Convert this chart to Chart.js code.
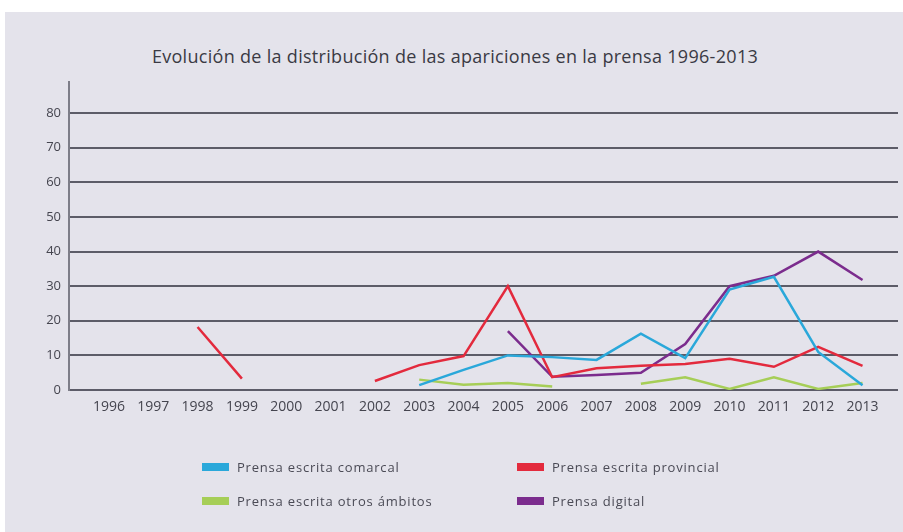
<!DOCTYPE html>
<html>
<head>
<meta charset="utf-8">
<script src="https://cdn.jsdelivr.net/npm/chart.js@4.4.1/dist/chart.umd.min.js"></script>
<style>
  html, body { margin: 0; padding: 0; background: #ffffff; }
  #wrap { position: relative; width: 903px; height: 532px; overflow: hidden; }
  #panel { position: absolute; left: 5px; top: 12px; width: 898px; height: 520px; background: #e4e3eb; }
  #title {
    position: absolute; left: 0; width: 910px; top: 44px; text-align: center;
    font-family: "Open Sans", sans-serif; font-size: 18px; color: #3a3a44; letter-spacing: 0.3px;
  }
  #chart { position: absolute; left: 0; top: 0; }
  .leg { position: absolute; font-family: "Open Sans", sans-serif; font-size: 13px; color: #4a4a55; white-space: nowrap; letter-spacing: 0.8px; }
  .leg span.box { position: absolute; left: 0; top: 5px; width: 27px; height: 8px; }
  .leg span.txt { position: absolute; left: 35px; top: 0; line-height: 18px; }
</style>
</head>
<body>
<div id="wrap">
  <div id="panel"></div>
  <div id="title">Evolución de la distribución de las apariciones en la prensa 1996-2013</div>
  <canvas id="chart" width="903" height="532"></canvas>
  <div id="legend"></div>
</div>
<script>
// 年份（x 轴）
const years = [1996, 1997, 1998, 1999, 2000, 2001, 2002, 2003, 2004,
               2005, 2006, 2007, 2008, 2009, 2010, 2011, 2012, 2013];

// y 轴刻度
const yTickValues = [0, 10, 20, 30, 40, 50, 60, 70, 80];

const seriesNames = [
  'Prensa escrita comarcal',
  'Prensa escrita provincial',
  'Prensa escrita otros ámbitos',
  'Prensa digital'
];

// 各系列数值（null = 无数据）
const comarcal   = [null, null, null, null, null, null, null, 1.4, 5.8, 10, 9.5, 8.7, 16.3, 9.2, 29, 32.7, 11, 1.4];
const provincial = [null, null, 18.2, 3.3, null, null, 2.6, 7.2, 9.8, 30, 3.7, 6.3, 7, 7.5, 9, 6.7, 12.5, 7];
const otros      = [null, null, null, null, null, null, null, 3, 1.5, 2, 1, null, 1.8, 3.7, 0.3, 3.7, 0.3, 2];
const digital    = [null, null, null, null, null, null, null, null, null, 17, 3.8, 4.3, 5, 13.3, 30, 33, 40, 31.8];

const colors = {
  comarcal: '#2aa8da',
  provincial: '#e32a3d',
  otros: '#a6ce57',
  digital: '#7b2c8d',
  grid: '#5c5c68',
  axis: '#7d7d88',
  tick: '#45454f'
};

const toPoints = (vals) => vals.map((v, i) => ({ x: years[i], y: v }));

const seriesValues = [comarcal, provincial, otros, digital];
const seriesColors = [colors.comarcal, colors.provincial, colors.otros, colors.digital];

const datasets = seriesValues.map((vals, i) => ({
  label: seriesNames[i],
  data: toPoints(vals),
  borderColor: seriesColors[i],
  backgroundColor: seriesColors[i],
  borderWidth: 2.5,
  pointRadius: 0,
  tension: 0,
  spanGaps: false
}));

const chart = new Chart(document.getElementById('chart'), {
  type: 'line',
  data: { datasets },
  options: {
    responsive: false,
    animation: false,
    layout: { padding: { left: 0, right: 5, top: 82, bottom: 0 } },
    plugins: {
      legend: { display: false },
      title: { display: false },
      tooltip: { enabled: false }
    },
    scales: {
      x: {
        type: 'linear',
        min: 1995.1,
        max: 2013.8,
        afterBuildTicks: (scale) => { scale.ticks = years.map(v => ({ value: v })); },
        afterFit: (scale) => { scale.height = 142; },
        grid: { display: false, drawTicks: false },
        border: { display: false },
        ticks: {
          autoSkip: false,
          maxRotation: 0,
          padding: 9,
          color: colors.tick,
          font: { family: 'Open Sans', size: 14 },
          callback: v => String(v)
        }
      },
      y: {
        min: 0,
        max: 89,
        afterBuildTicks: (scale) => { scale.ticks = yTickValues.map(v => ({ value: v })); },
        afterFit: (scale) => { scale.width = 69; },
        grid: { color: colors.grid, lineWidth: 2, drawTicks: false },
        border: { display: true, color: colors.axis, width: 2 },
        ticks: {
          padding: 8,
          color: colors.tick,
          font: { family: 'Open Sans', size: 13 }
        }
      }
    }
  }
});

// 图例（2 x 2 布局）
const legendPos = [
  { left: 202, top: 458 },
  { left: 517, top: 458 },
  { left: 202, top: 492 },
  { left: 517, top: 492 }
];
const legendEl = document.getElementById('legend');
chart.data.datasets.forEach((ds, i) => {
  const item = document.createElement('div');
  item.className = 'leg';
  item.style.left = legendPos[i].left + 'px';
  item.style.top = legendPos[i].top + 'px';
  item.innerHTML = `<span class="box" style="background:${ds.borderColor}"></span><span class="txt">${ds.label}</span>`;
  legendEl.appendChild(item);
});
</script>
</body>
</html>
